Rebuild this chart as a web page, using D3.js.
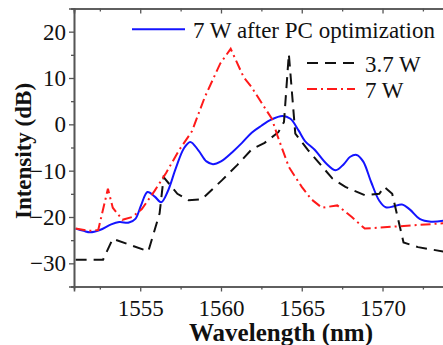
<!DOCTYPE html>
<html lang="en">
<head>
    <meta charset="UTF-8">
    <title>Spectrum</title>
    <style>
        body{ margin:0; background:#fff; }
        svg{ display:block; }
        svg text{ font-family:"Liberation Serif","Times New Roman",Times,serif; }
    </style>
</head>
<body>
    <script src="https://cdn.jsdelivr.net/npm/d3@7"></script>
    <script>
        const W = 443;
        const H = 345;

        // 7 W after PC optimization (blue, solid)
        const wlBlue = [1551.0,1551.5,1551.9,1552.5,1553.2,1553.7,1554.3,1554.7,1555.05,1555.45,1555.9,1556.3,1556.7,1557.2,1557.7,1558.1,1558.6,1559.1,1559.5,1560.0,1560.7,1561.3,1561.9,1562.5,1563.1,1563.8,1564.3,1564.8,1565.2,1565.8,1566.5,1567.1,1567.6,1568.0,1568.4,1568.8,1569.3,1569.8,1570.2,1570.7,1571.2,1571.7,1572.3,1573.0,1574.0];
        const dbBlue = [-22.5,-23.0,-23.3,-22.8,-21.6,-21.1,-21.2,-20.4,-17.5,-14.6,-15.6,-16.8,-14.5,-9.5,-5.2,-3.8,-5.6,-8.0,-8.6,-8.0,-6.0,-4.0,-1.8,-0.3,1.0,1.8,1.2,-1.3,-3.6,-5.5,-8.4,-9.9,-8.6,-7.0,-6.6,-8.0,-12.5,-16.5,-17.9,-17.7,-17.3,-18.4,-20.4,-21.0,-20.7];

        // 3.7 W (black, dashed)
        const wlBlack = [1551.0,1552.7,1553.3,1555.5,1556.2,1556.45,1557.3,1558.0,1558.8,1560.05,1561.0,1561.9,1562.7,1563.55,1563.9,1564.2,1564.6,1565.4,1566.9,1567.7,1568.9,1569.8,1570.1,1570.6,1571.3,1572.2,1574.0];
        const dbBlack = [-29.2,-29.2,-24.7,-27.4,-19.2,-11.4,-15.0,-16.4,-16.2,-12.1,-8.8,-5.4,-4.0,-1.7,0.5,15.2,-2.0,-5.6,-11.7,-13.5,-15.3,-15.0,-13.5,-15.0,-25.5,-26.5,-27.6];

        // 7 W (red, dash-dot)
        const wlRed = [1551.0,1551.8,1552.4,1553.0,1553.3,1553.9,1554.5,1555.1,1555.9,1556.6,1557.4,1558.2,1559.0,1559.95,1560.6,1561.4,1561.9,1562.5,1563.15,1563.5,1564.2,1565.0,1565.6,1566.25,1567.2,1568.1,1568.9,1571.0,1574.0];
        const dbRed = [-22.5,-23.0,-22.8,-13.9,-18.0,-20.6,-20.0,-18.3,-14.3,-10.5,-5.6,-1.5,5.9,13.1,16.3,10.2,8.0,4.7,1.2,-2.5,-9.2,-13.5,-16.2,-18.0,-17.5,-20.0,-22.5,-22.0,-21.3];

        const xMajor = [1555,1560,1565,1570];
        const xMinor = [1552.5,1557.5,1562.5,1567.5,1572.5];
        const yMajor = [-30,-20,-10,0,10,20];
        const yMinor = [-35,-25,-15,-5,5,15,25];

        const series = [
            {name:"7 W after PC optimization", wl:wlBlue, db:dbBlue},
            {name:"3.7 W", wl:wlBlack, db:dbBlack},
            {name:"7 W", wl:wlRed, db:dbRed}
        ];
        const styles = {
            "7 W after PC optimization": {color:"#1414ff", dash:null, curve:d3.curveCatmullRom.alpha(0.5)},
            "3.7 W": {color:"#111", dash:"11,7", curve:d3.curveLinear},
            "7 W": {color:"#ff1a1a", dash:"10,4,2,4", curve:d3.curveLinear}
        };

        const serif = '"Liberation Serif","Times New Roman",serif';

        const svg = d3.select("body")
            .append("svg")
            .attr("width", W)
            .attr("height", H);

        const mLeft = 74, mTop = 8.5, mBottom = 286.5;

        const x = d3.scaleLinear()
            .domain([1550.9, 1574])
            .range([mLeft, mLeft + 23.1 * 16.153]);

        const y = d3.scaleLinear()
            .domain([-35, 25])
            .range([mBottom, mTop]);

        svg.append("clipPath").attr("id", "clip")
            .append("rect")
            .attr("x", mLeft).attr("y", mTop)
            .attr("width", x.range()[1] - mLeft).attr("height", mBottom - mTop);

        // courbes
        const plot = svg.append("g").attr("clip-path", "url(#clip)");
        series.forEach(s => {
            const st = styles[s.name];
            const pts = s.wl.map((w, i) => [w, s.db[i]]);
            plot.append("path")
                .datum(pts)
                .attr("fill", "none")
                .attr("stroke", st.color)
                .attr("stroke-width", 2)
                .attr("stroke-dasharray", st.dash)
                .attr("d", d3.line().x(d => x(d[0])).y(d => y(d[1])).curve(st.curve));
        });

        // axes
        const axisColor = "#555";
        function styleAxis(g){
            g.select(".domain").attr("stroke", axisColor).attr("stroke-width", 1.6);
            g.selectAll(".tick line").attr("stroke", axisColor).attr("stroke-width", 1.3);
            g.selectAll("text").attr("fill", "#111").attr("font-size", 23).style("font-family", serif);
        }

        svg.append("g")
            .attr("transform", `translate(0, ${mBottom})`)
            .call(d3.axisBottom(x).tickValues(xMajor).tickSize(5).tickPadding(8).tickFormat(d3.format("d")))
            .call(styleAxis);
        svg.append("g")
            .attr("transform", `translate(0, ${mBottom})`)
            .call(d3.axisBottom(x).tickValues(xMinor).tickSize(3).tickFormat(""))
            .call(styleAxis);

        // axe du haut, graduations vers l'intérieur
        svg.append("g")
            .attr("transform", `translate(0, ${mTop})`)
            .call(d3.axisTop(x).tickValues(xMajor).tickSize(-5).tickFormat(""))
            .call(styleAxis);
        svg.append("g")
            .attr("transform", `translate(0, ${mTop})`)
            .call(d3.axisTop(x).tickValues(xMinor).tickSize(-3).tickFormat(""))
            .call(styleAxis);

        svg.append("g")
            .attr("transform", `translate(${mLeft}, 0)`)
            .call(d3.axisLeft(y).tickValues(yMajor).tickSize(5).tickPadding(3).tickFormat(d3.format("d")))
            .call(styleAxis);
        svg.append("g")
            .attr("transform", `translate(${mLeft}, 0)`)
            .call(d3.axisLeft(y).tickValues(yMinor).tickSize(3).tickFormat(""))
            .call(styleAxis);

        // titres
        svg.append("text")
            .attr("x", 281).attr("y", 341)
            .attr("text-anchor", "middle")
            .attr("font-size", 25).attr("font-weight", "bold")
            .attr("fill", "#111")
            .style("font-family", serif)
            .text("Wavelength (nm)");

        svg.append("text")
            .attr("transform", "translate(31, 151) rotate(-90)")
            .attr("text-anchor", "middle")
            .attr("font-size", 23).attr("font-weight", "bold")
            .attr("fill", "#111")
            .style("font-family", serif)
            .text("Intensity (dB)");

        // légende
        const legend = [
            {name:"7 W after PC optimization", x1:132, x2:185, ly:29.3, tx:193, ty:38},
            {name:"3.7 W", x1:307, x2:355, ly:63, tx:365, ty:71.5},
            {name:"7 W", x1:307, x2:355, ly:89, tx:365, ty:97.5}
        ];
        legend.forEach(l => {
            const st = styles[l.name];
            svg.append("line")
                .attr("x1", l.x1).attr("x2", l.x2)
                .attr("y1", l.ly).attr("y2", l.ly)
                .attr("stroke", st.color)
                .attr("stroke-width", 2)
                .attr("stroke-dasharray", st.dash);
            svg.append("text")
                .attr("x", l.tx).attr("y", l.ty)
                .attr("font-size", 23)
                .attr("fill", "#111")
                .style("font-family", serif)
                .text(l.name);
        });
    </script>
</body>
</html>
